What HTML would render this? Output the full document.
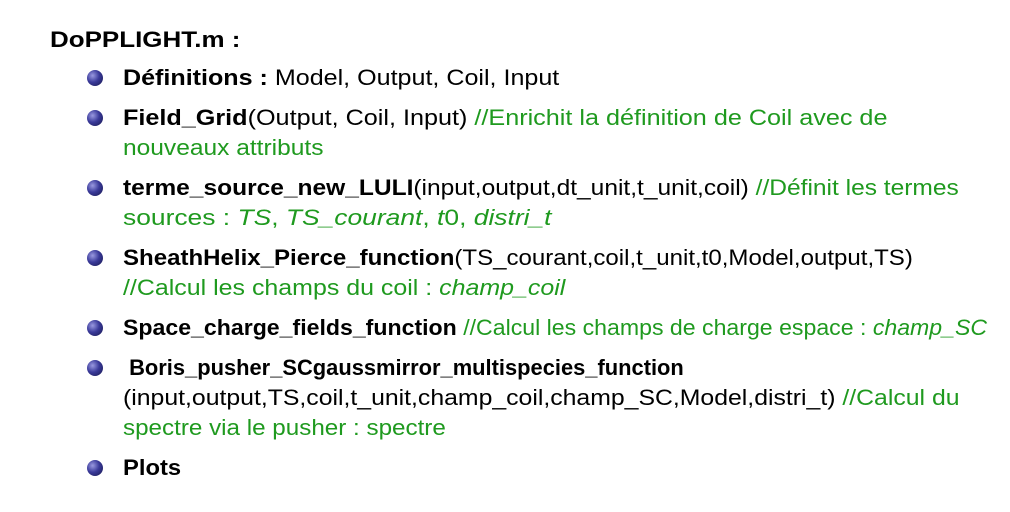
<!DOCTYPE html>
<html><head><meta charset="utf-8"><style>
body{margin:0;width:1010px;height:512px;background:#fff;font-family:"Liberation Sans",sans-serif;font-size:22px;color:#000;position:relative;overflow:hidden}
.l{position:absolute;left:123px;white-space:nowrap;line-height:30px;height:30px;transform:scaleX(1.1);transform-origin:0 50%}
.g{color:#1f9a1f}
.b{position:absolute;left:87px;width:16px;height:16px;border-radius:50%;background:radial-gradient(circle at 35% 35%,#9a9ae0 0%,#3a3a9a 45%,#15154a 100%)}
b{font-weight:bold}
i{font-style:italic}
</style></head><body>
<div class="l" style="left:50px;top:25px;transform:scaleX(1.18)"><b>DoPPLIGHT.m :</b></div>

<div class="b" style="top:70px"></div>
<div class="l" style="top:63px;transform:scaleX(1.14)"><b>Définitions :</b> Model, Output, Coil, Input</div>

<div class="b" style="top:110px"></div>
<div class="l" style="top:103px;transform:scaleX(1.145)"><b>Field_Grid</b>(Output, Coil, Input) <span class="g">//Enrichit la définition de Coil avec de</span></div>
<div class="l g" style="top:133px;transform:scaleX(1.115)">nouveaux attributs</div>

<div class="b" style="top:180px"></div>
<div class="l" style="top:173px;transform:scaleX(1.115)"><b>terme_source_new_LULI</b>(input,output,dt_unit,t_unit,coil) <span class="g">//Définit les termes</span></div>
<div class="l g" style="top:203px;transform:scaleX(1.2)">sources : <i>TS</i>, <i>TS_courant</i>, <i>t</i>0, <i>distri_t</i></div>

<div class="b" style="top:250px"></div>
<div class="l" style="top:243px;transform:scaleX(1.093)"><b>SheathHelix_Pierce_function</b>(TS_courant,coil,t_unit,t0,Model,output,TS)</div>
<div class="l g" style="top:273px;transform:scaleX(1.134)">//Calcul les champs du coil : <i>champ_coil</i></div>

<div class="b" style="top:320px"></div>
<div class="l" style="top:313px;transform:scaleX(1.05)"><b>Space_charge_fields_function</b> <span class="g">//Calcul les champs de charge espace : <i>champ_SC</i></span></div>

<div class="b" style="top:360px"></div>
<div class="l" style="top:353px;transform:scaleX(0.995)">&nbsp;<b>Boris_pusher_SCgaussmirror_multispecies_function</b></div>
<div class="l" style="top:383px;transform:scaleX(1.127)">(input,output,TS,coil,t_unit,champ_coil,champ_SC,Model,distri_t) <span class="g">//Calcul du</span></div>
<div class="l g" style="top:413px">spectre via le pusher : spectre</div>

<div class="b" style="top:460px"></div>
<div class="l" style="top:453px;transform:scaleX(1.08)"><b>Plots</b></div>
</body></html>
